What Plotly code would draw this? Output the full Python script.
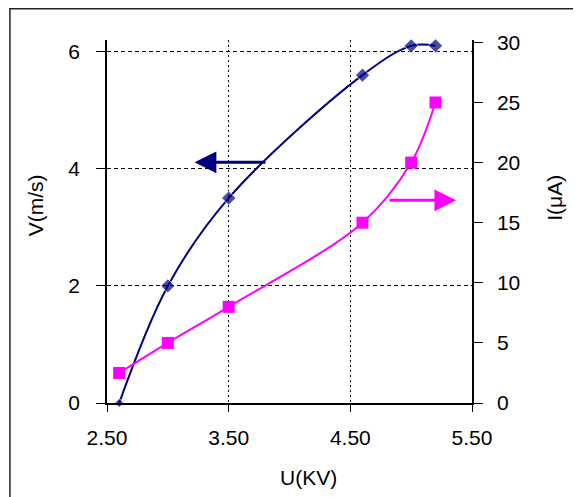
import plotly.graph_objects as go

# Data
u_kv = [2.6, 3.0, 3.5, 4.6, 5.0, 5.2]
v_ms = [0.0, 2.0, 3.5, 5.6, 6.1, 6.1]
i_ua = [2.5, 5.0, 8.0, 15.0, 20.0, 25.0]
x_ticks = [2.5, 3.5, 4.5, 5.5]
x_tick_text = ["2.50", "3.50", "4.50", "5.50"]
v_ticks = [0, 2, 4, 6]
i_ticks = [0, 5, 10, 15, 20, 25, 30]

NAVY = "#000080"
MAGENTA = "#FF00FF"
FONT = "Liberation Sans, Arial, sans-serif"

fig = go.Figure()
fig.add_trace(go.Scatter(
    x=u_kv, y=v_ms, mode="lines+markers",
    line=dict(color=NAVY, width=2, shape="spline", smoothing=1),
    marker=dict(symbol="diamond", size=[7, 11, 11, 11, 11, 11], color=NAVY),
    cliponaxis=False, showlegend=False,
))
fig.add_trace(go.Scatter(
    x=u_kv, y=i_ua, mode="lines+markers", yaxis="y2",
    line=dict(color=MAGENTA, width=2, shape="spline", smoothing=1),
    marker=dict(symbol="square", size=12, color=MAGENTA),
    cliponaxis=False, showlegend=False,
))

axis_font = dict(family=FONT, size=21, color="black")

fig.update_layout(
    width=573, height=489,
    margin=dict(l=99, r=109, t=32, b=94),
    paper_bgcolor="white", plot_bgcolor="white",
    font=dict(family=FONT, size=21, color="black"),
    xaxis=dict(
        range=[2.5, 5.5], tickvals=x_ticks, ticktext=x_tick_text,
        showline=True, linecolor="black", linewidth=1.5,
        ticks="outside", ticklen=7, tickcolor="black", tickwidth=1,
        ticklabelstandoff=8,
        showgrid=True, gridcolor="black", gridwidth=1, griddash="2px,3px",
        zeroline=False, tickfont=axis_font,
    ),
    yaxis=dict(
        range=[0, 6.2], tickvals=v_ticks,
        showline=True, linecolor="black", linewidth=1.5,
        ticks="outside", ticklen=9, tickcolor="black", tickwidth=1,
        ticklabelstandoff=12,
        showgrid=True, gridcolor="black", gridwidth=1, griddash="4px,3px",
        zeroline=False, tickfont=axis_font,
    ),
    yaxis2=dict(
        range=[0, 30.2], tickvals=i_ticks, overlaying="y", side="right",
        showline=True, linecolor="black", linewidth=1.5,
        ticks="outside", ticklen=9, tickcolor="black", tickwidth=1,
        ticklabelstandoff=10,
        showgrid=False, zeroline=False, tickfont=axis_font,
    ),
)

# Axis titles
fig.add_annotation(text="V(m/s)", xref="paper", yref="paper", x=-0.197, y=0.545,
                   textangle=-90, showarrow=False, xanchor="center", yanchor="middle",
                   font=axis_font)
fig.add_annotation(text="I(μA)", xref="paper", yref="paper", x=1.227, y=0.565,
                   textangle=-90, showarrow=False, xanchor="center", yanchor="middle",
                   font=axis_font)
fig.add_annotation(text="U(KV)", xref="paper", yref="paper", x=0.551, y=-0.204,
                   showarrow=False, xanchor="center", yanchor="middle",
                   font=axis_font)

# Arrows
fig.add_annotation(x=3.22, y=4.11, ax=3.815, ay=4.11, xref="x", yref="y",
                   axref="x", ayref="y", text="", showarrow=True,
                   arrowhead=2, arrowsize=1.45, arrowwidth=3, arrowcolor=NAVY)
fig.add_annotation(x=5.37, y=16.86, ax=4.81, ay=16.86, xref="x", yref="y2",
                   axref="x", ayref="y2", text="", showarrow=True,
                   arrowhead=2, arrowsize=1.45, arrowwidth=3, arrowcolor=MAGENTA)

# Outer frame
fig.add_shape(type="rect", xref="paper", yref="paper",
              x0=-0.266, y0=-1.0, x1=2.0, y1=1.086,
              line=dict(color="#222222", width=1.5), fillcolor="rgba(0,0,0,0)",
              layer="below")

fig.write_html("out.html")
